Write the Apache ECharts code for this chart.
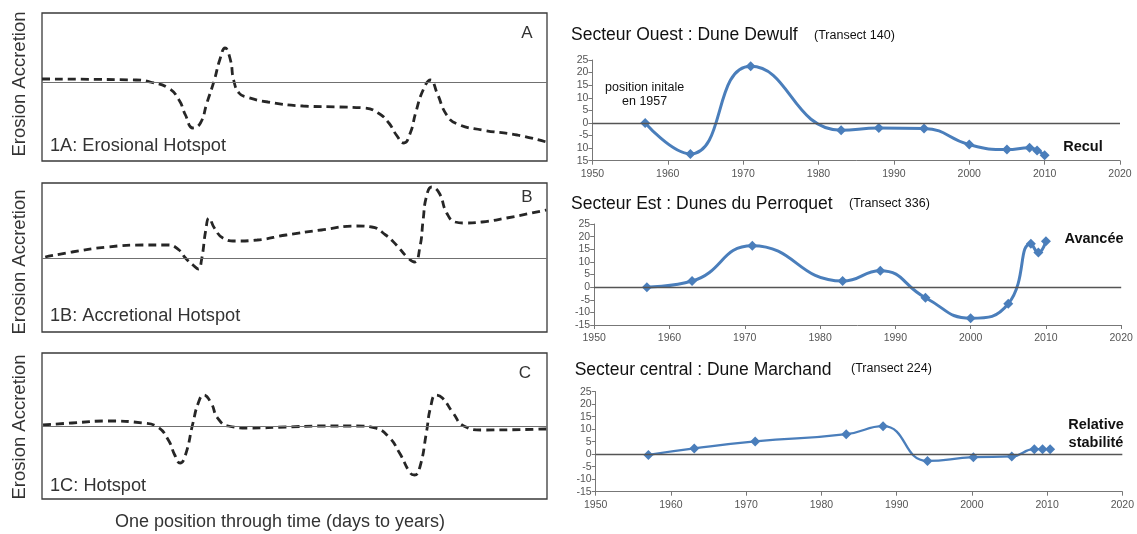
<!DOCTYPE html>
<html><head><meta charset="utf-8">
<script src="https://cdn.jsdelivr.net/npm/echarts@6/dist/echarts.min.js"></script>
<style>html,body{margin:0;padding:0;background:#fff}#c{width:1137px;height:534px}</style>
</head><body><div id="c"></div>
<script>
// ---- Left conceptual panels: [position along box, offset from baseline]
const curveA = [[0,3],[88,2],[101,0],[118,-6],[128,-18],[134,-33],[141,-46],[148,-41],[154,-21],[161,2],[166,22],[171,34],[176,22],[179,2],[184,-11],[191,-15],[211,-20],[244,-24],[278,-25],[301,-26],[314,-31],[324,-41],[331,-53],[338,-61],[344,-51],[349,-31],[356,-8],[363,2],[369,-11],[378,-33],[388,-42],[411,-48],[444,-53],[471,-60]];
const curveB = [[3,1],[28,6],[61,11],[94,13],[118,13],[128,8],[134,0],[141,-7],[146,-11],[149,-2],[153,28],[156,40],[161,30],[169,20],[181,17],[201,18],[228,23],[261,28],[294,32],[308,31],[321,23],[331,13],[341,1],[348,-4],[353,11],[356,38],[359,61],[364,71],[371,65],[378,45],[386,36],[394,35],[411,36],[434,40],[471,48]];
const curveC = [[1,1],[28,3],[61,5],[94,3],[108,-1],[118,-14],[124,-29],[129,-37],[134,-29],[141,3],[146,23],[151,31],[158,23],[164,8],[174,0],[194,-2],[228,-1],[261,0],[294,0],[311,-2],[324,-11],[334,-27],[344,-47],[348,-49],[353,-41],[359,-7],[363,19],[368,31],[374,28],[384,13],[394,0],[411,-4],[471,-3]];
const panelLetters = ['A','B','C'];
const panelNames = ['1A: Erosional Hotspot','1B: Accretional Hotspot','1C: Hotspot'];
const leftYLabel = 'Erosion Accretion';
const leftXLabel = 'One position through time (days to years)';

// ---- Right panels: transect positions (m) vs year
const yearsOuest = [1957,1963,1971,1983,1988,1994,2000,2005,2008,2009,2010];
const valuesOuest = [0,-12.3,22.5,-2.9,-2,-2.2,-8.6,-10.6,-9.9,-10.9,-12.8];
const yearsEst = [1957,1963,1971,1983,1988,1994,2000,2005,2008,2009,2010];
const valuesEst = [0,2.4,16.4,2.4,6.5,-4.2,-12.3,-6.6,17.2,13.7,18.2];
const yearsCentral = [1957,1963.1,1971.2,1983.3,1988.2,1994.1,2000.2,2005.3,2008.3,2009.4,2010.4];
const valuesCentral = [-0.3,2.3,5.1,8,11.2,-2.7,-1.2,-0.9,2,2,2];
const yTickLabelsOuest = {'-15':'15','-10':'10','-5':'-5','0':'0','5':'5','10':'10','15':'15','20':'20','25':'25'};
const titles = ['Secteur Ouest : Dune Dewulf','Secteur Est : Dunes du Perroquet','Secteur central : Dune Marchand'];
const transects = ['(Transect 140)','(Transect 336)','(Transect 224)'];
const notes = ['Recul','Avancée','Relative\nstabilité'];

const FONT = "'Liberation Sans', Arial, sans-serif";
const chart = echarts.init(document.getElementById('c'));

const leftGrids = [
  {left:42, top:13, width:505, height:148, ymin:-79, ymax:69},
  {left:42, top:183, width:505, height:149, ymin:-74, ymax:75},
  {left:42, top:353, width:505, height:146, ymin:-73, ymax:73}
];
const rightGrids = [
  {left:592.4, top:60, width:527.6, height:100.7},
  {left:594.2, top:224, width:527, height:101},
  {left:595.7, top:391.7, width:527.3, height:100}
];

const grid = [], xAxis = [], yAxis = [], series = [];
const curves = [curveA, curveB, curveC];
leftGrids.forEach((g, i) => {
  grid.push({left:g.left, top:g.top, width:g.width, height:g.height, show:true, borderColor:'#3a3a3a', borderWidth:1.3, backgroundColor:'transparent'});
  xAxis.push({type:'value', gridIndex:i, min:0, max:471.7, show:false});
  yAxis.push({type:'value', gridIndex:i, min:g.ymin, max:g.ymax, show:false});
  series.push({
    type:'line', xAxisIndex:i, yAxisIndex:i, data:curves[i], smooth:0.5, symbol:'none',
    lineStyle:{color:'#262626', width:2.8, type:[8,5]},
    markLine:{silent:true, symbol:['none','none'], label:{show:false},
      lineStyle:{color:'#707070', width:1, type:'solid'}, data:[{yAxis:0}]}
  });
});
const rData = [[yearsOuest, valuesOuest],[yearsEst, valuesEst],[yearsCentral, valuesCentral]];
rightGrids.forEach((g, k) => {
  const i = k + 3;
  grid.push({left:g.left, top:g.top, width:g.width, height:g.height});
  xAxis.push({type:'value', gridIndex:i, min:1950, max:2020, interval:10,
    axisLine:{show:true, onZero:false, lineStyle:{color:'#777', width:1}},
    axisTick:{show:true, length:4, lineStyle:{color:'#777'}},
    axisLabel:{color:'#555', fontSize:10.5, fontFamily:FONT, margin:8, formatter:v => String(v)},
    splitLine:{show:false}});
  yAxis.push({type:'value', gridIndex:i, min:-15, max:25, interval:5,
    axisLine:{show:true, lineStyle:{color:'#777', width:1}},
    axisTick:{show:true, length:4, lineStyle:{color:'#777'}},
    axisLabel:{color:'#555', fontSize:10.5, fontFamily:FONT, margin:4,
      formatter: k === 0 ? (v => yTickLabelsOuest[String(v)]) : (v => String(v))},
    splitLine:{show:false}});
  const [ys, vs] = rData[k];
  series.push({
    type:'line', xAxisIndex:i, yAxisIndex:i,
    data: ys.map((y, j) => [y, vs[j]]),
    smooth:0.5, symbol:'diamond', symbolSize:10, showSymbol:true,
    lineStyle:{color:'#4a7ebb', width:k === 2 ? 2.3 : 3},
    itemStyle:{color:'#4a7ebb'},
    markLine:{silent:true, symbol:['none','none'], label:{show:false},
      lineStyle:{color:'#555', width:1.3, type:'solid'}, data:[{yAxis:0}]}
  });
});

const graphic = [];
const letterPos = [[527,33],[527,197],[525,373]];
const namePos = [[50,146],[50,316],[50,486]];
const yLabPos = [[20,84],[20,262],[20,427]];
for (let i = 0; i < 3; i++) {
  graphic.push({type:'text', x:letterPos[i][0], y:letterPos[i][1], style:{text:panelLetters[i], font:`17px ${FONT}`, fill:'#333', align:'center', verticalAlign:'middle'}});
  graphic.push({type:'text', x:namePos[i][0], y:namePos[i][1], scaleX:1.04, style:{text:panelNames[i], font:`17.5px ${FONT}`, fill:'#333', align:'left', verticalAlign:'middle'}});
  graphic.push({type:'text', x:yLabPos[i][0], y:yLabPos[i][1], rotation:Math.PI/2, style:{text:leftYLabel, font:`18.5px ${FONT}`, fill:'#333', align:'center', verticalAlign:'middle'}});
}
graphic.push({type:'text', x:280, y:522, style:{text:leftXLabel, font:`18px ${FONT}`, fill:'#333', align:'center', verticalAlign:'middle'}});

const titlePos = [[571,35],[571,204],[574.7,370]];
const trPos = [[814,36],[849,204],[851,369]];
for (let k = 0; k < 3; k++) {
  graphic.push({type:'text', x:titlePos[k][0], y:titlePos[k][1], style:{text:titles[k], font:`17.5px ${FONT}`, fill:'#111', align:'left', verticalAlign:'middle'}});
  graphic.push({type:'text', x:trPos[k][0], y:trPos[k][1], style:{text:transects[k], font:`12.5px ${FONT}`, fill:'#111', align:'left', verticalAlign:'middle'}});
}
graphic.push({type:'text', x:1083, y:147, style:{text:notes[0], font:`bold 14.5px ${FONT}`, fill:'#111', align:'center', verticalAlign:'middle'}});
graphic.push({type:'text', x:1094, y:239, style:{text:notes[1], font:`bold 14.5px ${FONT}`, fill:'#111', align:'center', verticalAlign:'middle'}});
graphic.push({type:'text', x:1096, y:434, style:{text:notes[2], font:`bold 14.5px ${FONT}`, fill:'#111', align:'center', verticalAlign:'middle', lineHeight:18}});
graphic.push({type:'text', x:644.6, y:95, style:{text:'position initale\nen 1957', font:`12.5px ${FONT}`, fill:'#111', align:'center', verticalAlign:'middle', lineHeight:14}});

chart.setOption({animation:false, backgroundColor:'#fff', grid, xAxis, yAxis, series, graphic});
</script></body></html>
